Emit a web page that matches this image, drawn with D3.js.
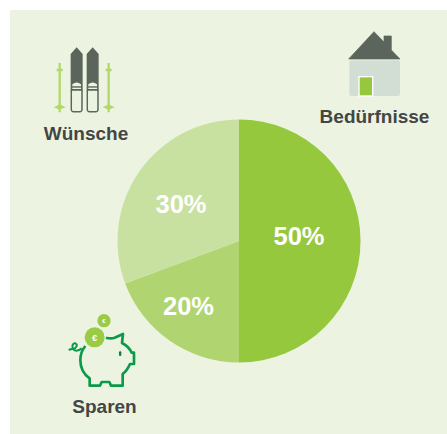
<!DOCTYPE html>
<html>
<head>
<meta charset="utf-8">
<script src="https://cdn.jsdelivr.net/npm/d3@7"></script>
<style>
  html, body { margin: 0; padding: 0; background: #fff; }
  svg { display: block; }
  text { font-family: "Liberation Sans", Arial, sans-serif; font-weight: 700; }
</style>
</head>
<body>
<div id="chart"></div>
<script>
const categories = ['Bedürfnisse', 'Sparen', 'Wünsche'];
// Slice sizes; the printed labels are rounder than the drawn angles
const shares = [50, 19.3, 30.7];
const shareLabels = ['50%', '20%', '30%'];
const sliceColors = ['#95c83d', '#b0d570', '#c9e1a0'];

const width = 447;
const height = 434;
const center = { x: 239, y: 241 };
const radius = 121.5;
const paper = '#ecf4e1';
const dark = '#5b655b';
const lime = '#b2d86c';
const green = '#0a9a4a';
const textColor = '#444645';

const svg = d3.select('#chart').append('svg')
  .attr('width', width)
  .attr('height', height);

svg.append('rect')
  .attr('x', 10).attr('y', 10)
  .attr('width', width - 10).attr('height', height - 10)
  .attr('fill', paper);

// Pie starts at 12 o'clock and runs clockwise, in data order
const pie = d3.pie().sort(null)(shares);
const arc = d3.arc().innerRadius(0).outerRadius(radius);
const chart = svg.append('g').attr('transform', `translate(${center.x},${center.y})`);

chart.selectAll('path')
  .data(pie)
  .join('path')
  .attr('d', arc)
  .attr('fill', (d, i) => sliceColors[i]);

// Labels are hand placed in the original, offsets from the pie center
const labelOffsets = [[60, -4.5], [-50.5, 65], [-58, -37]];
chart.selectAll('text')
  .data(pie)
  .join('text')
  .attr('x', (d, i) => labelOffsets[i][0])
  .attr('y', (d, i) => labelOffsets[i][1])
  .attr('dy', '0.35em')
  .attr('text-anchor', 'middle')
  .attr('font-size', 25.5)
  .attr('fill', '#fff')
  .text((d, i) => shareLabels[i]);

// Category captions
const captions = [
  { x: 86, y: 140 },
  { x: 374.5, y: 123 },
  { x: 104.5, y: 413 },
];
[categories[2], categories[0], categories[1]].forEach((name, i) => {
  svg.append('text')
    .attr('x', captions[i].x)
    .attr('y', captions[i].y)
    .attr('text-anchor', 'middle')
    .attr('font-size', 19)
    .attr('fill', textColor)
    .text(name);
});

// Skis icon (coordinates are in a 3x grid, easier to trace)
const skis = svg.append('g').attr('transform', 'translate(30,30) scale(0.3333)');
[122, 170].forEach((x) => {
  skis.append('path')
    .attr('d', `M${x},182V72L${x + 18},52L${x + 36},72V182Z`)
    .attr('fill', dark);
  skis.append('path')
    .attr('d', `M${x + 2},180V238Q${x + 2},245 ${x + 9},245H${x + 27}Q${x + 34},245 ${x + 34},238V180`)
    .attr('fill', 'none')
    .attr('stroke', dark)
    .attr('stroke-width', 4.5);
  skis.append('rect')
    .attr('x', x + 5).attr('y', 184).attr('width', 26).attr('height', 58)
    .attr('fill', paper);
  skis.append('path')
    .attr('d', `M${x + 5},169V163Q${x + 18},152 ${x + 31},163V169Z`)
    .attr('fill', paper);
  skis.append('rect')
    .attr('x', x + 5).attr('y', 173).attr('width', 26).attr('height', 4)
    .attr('fill', paper);
});
[89, 236].forEach((x) => {
  skis.append('path')
    .attr('d', `M${x},99V247M${x - 9},120H${x + 9}`)
    .attr('fill', 'none')
    .attr('stroke', lime)
    .attr('stroke-width', 7);
  skis.append('path')
    .attr('d', `M${x - 18},232L${x - 3},224H${x + 3}L${x + 18},232L${x + 3},238H${x - 3}Z`)
    .attr('fill', lime);
});

// House icon
const house = svg.append('g').attr('transform', 'translate(310,20) scale(0.3333)');
house.append('rect')
  .attr('x', 118).attr('y', 121).attr('width', 152).attr('height', 107).attr('rx', 6)
  .attr('fill', '#d2ded4');
house.append('path')
  .attr('d', 'M116,117L192,35L222,66V48H244V90L270,117Z')
  .attr('fill', dark)
  .attr('stroke', dark)
  .attr('stroke-width', 2)
  .attr('stroke-linejoin', 'round');
house.append('rect')
  .attr('x', 147).attr('y', 170).attr('width', 41).attr('height', 58)
  .attr('fill', '#95c83d')
  .attr('stroke', '#fff')
  .attr('stroke-width', 4);

// Piggy bank icon
const piggy = svg.append('g').attr('transform', 'translate(50,300) scale(0.3333)');
piggy.append('path')
  .attr('d', 'M168,113C178,116 186,116 194,113L219,102L216,129C230,136 240,147 245,158H252V192H240C234,206 226,216 218,222V257H183L178,246H155L150,257H119V235C100,222 91,202 91,180C91,164 96,150 106,138')
  .attr('fill', 'none')
  .attr('stroke', green)
  .attr('stroke-width', 8)
  .attr('stroke-linejoin', 'round');
piggy.append('path')
  .attr('d', 'M95,145C88,152 76,155 70,148C64,140 68,128 76,130C84,133 80,145 70,146C64,147 60,148 56,150')
  .attr('fill', 'none')
  .attr('stroke', green)
  .attr('stroke-width', 6);
piggy.append('rect')
  .attr('x', 207).attr('y', 154).attr('width', 7).attr('height', 14).attr('rx', 3)
  .attr('fill', '#0a7f42');
[[134, 112, 30, 28], [162, 62, 20, 18]].forEach(([cx, cy, r, size]) => {
  piggy.append('circle')
    .attr('cx', cx).attr('cy', cy).attr('r', r)
    .attr('fill', '#9acb44');
  piggy.append('text')
    .attr('x', cx).attr('y', cy)
    .attr('dy', '0.35em')
    .attr('text-anchor', 'middle')
    .attr('font-size', size)
    .attr('fill', '#fff')
    .text('€');
});
</script>
</body>
</html>
